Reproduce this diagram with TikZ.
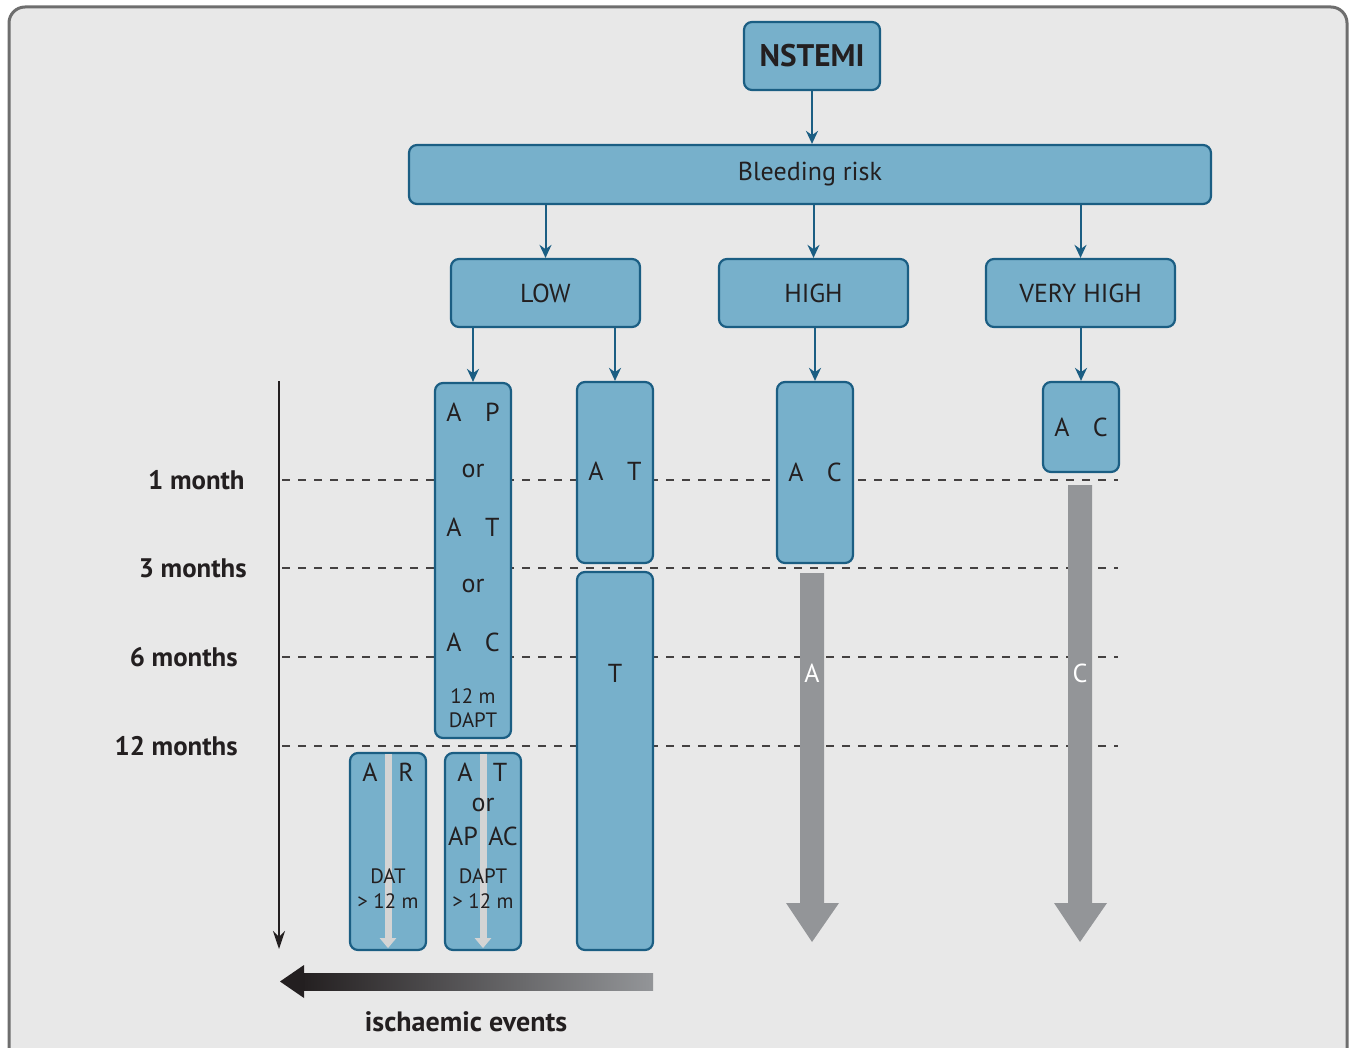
\documentclass[tikz,border=0pt]{standalone}
\usepackage{fontspec}
\setmainfont{PT Sans}
\usetikzlibrary{arrows.meta}
\definecolor{boxfill}{HTML}{77B0CB}
\definecolor{boxline}{HTML}{1B5E83}
\definecolor{bggray}{HTML}{E8E8E8}
\definecolor{framegray}{HTML}{6E6E6E}
\definecolor{bararrow}{HTML}{939598}
\definecolor{lightarrow}{HTML}{D4D4D4}
\definecolor{darktext}{HTML}{231F20}
\begin{document}
\begin{tikzpicture}[x=0.5pt,y=-0.5pt,line join=round,
    >={Stealth[length=6.5pt,width=6pt]},
    box/.style={draw=boxline,fill=boxfill,line width=1.1pt,rounded corners=4pt,inner sep=0pt,
      text=darktext,font=\fontsize{13}{15}\selectfont},
    flow/.style={->,draw=boxline,line width=1pt},
    txt/.style={text=darktext,font=\fontsize{13}{15}\selectfont,inner sep=0pt},
    small/.style={text=darktext,font=\fontsize{10.4}{12}\selectfont,inner sep=0pt},
    month/.style={text=darktext,font=\bfseries\fontsize{13.4}{15}\selectfont,anchor=east,inner sep=0pt},
    grid/.style={draw=darktext!85,line width=0.55pt,dash pattern=on 4pt off 4pt}]
  \useasboundingbox (0,0) rectangle (1354,1048);
  \clip (0,0) rectangle (1354,1048);
  % frame
  \draw[framegray,line width=1.5pt,fill=bggray,rounded corners=8pt] (9,7) rectangle (1347,1120);

  % time axis and month lines
  \foreach \y/\x/\lab in {480/245/1 month,568/247/3 months,657/238/6 months,746/238/12 months}{
    \draw[grid] (282,\y) -- (1118,\y);
    \node[month] (m\y) at (\x,\y) {\lab};
  }
  \draw[darktext,line width=1pt,-{Stealth[length=9pt,width=6pt]}] (279,381) -- (279,949);

  % decision tree
  \node[box,minimum width=68pt,minimum height=34pt,font=\bfseries\fontsize{15.6}{17}\selectfont] (nstemi) at (812,56) {NSTEMI};
  \node[box,minimum width=401pt,minimum height=29.5pt] (bleed) at (810,174.5) {Bleeding risk};
  \node[box,minimum width=94.5pt,minimum height=34pt] (low) at (545.5,293) {LOW};
  \node[box,minimum width=94.5pt,minimum height=34pt] (high) at (813.5,293) {HIGH};
  \node[box,minimum width=94.5pt,minimum height=34pt] (vhigh) at (1080.5,293) {VERY HIGH};

  \draw[flow] (nstemi.south) -- (nstemi.south |- bleed.north);
  \foreach \n in {low,high,vhigh}
    \draw[flow] (\n.north |- bleed.south) -- (\n.north);

  % low risk
  \node[box,minimum width=38pt,minimum height=177.5pt] (apbox) at (473,560.5) {};
  \node[box,minimum width=38pt,minimum height=90.5pt] (atbox) at (615,472.5) {};
  \node[box,minimum width=38pt,minimum height=189pt] (tbox) at (615,761) {};
  \draw[flow] (apbox.north |- low.south) -- (apbox.north);
  \draw[flow] (atbox.north |- low.south) -- (atbox.north);
  \node[txt] (ap1) at (473,412) {A\hspace{0.9em}P};
  \node[txt] (ap2) at (473,471) {or};
  \node[txt] (ap3) at (473,527) {A\hspace{0.9em}T};
  \node[txt] (ap4) at (473,586) {or};
  \node[txt] (ap5) at (473,642) {A\hspace{0.9em}C};
  \node[small] (ap6) at (473,696) {12 m};
  \node[small] (ap7) at (473,720) {DAPT};
  \node[txt] (at1) at (615,471) {A\hspace{0.9em}T};
  \node[txt] (t1) at (615,673) {T};

  % after 12 months
  \node[box,minimum width=38pt,minimum height=98.5pt] (arbox) at (388,851.5) {};
  \node[box,minimum width=38pt,minimum height=98.5pt] (dapbox) at (483,851.5) {};
  \foreach \n in {arbox,dapbox}
    \draw[lightarrow,line width=3.5pt,-{Triangle[length=5pt,width=8pt]},shorten <=1pt,shorten >=1.5pt] (\n.north) -- (\n.south);
  \node[txt] (ar1) at (370,772) {A};
  \node[txt] (ar2) at (406,772) {R};
  \node[small] (ar3) at (388,876) {DAT};
  \node[small] (ar4) at (388,901) {> 12 m};
  \node[txt] (da1) at (465,772) {A};
  \node[txt] (da2) at (500,772) {T};
  \node[txt] (da3) at (483,805) {or};
  \node[txt] (da4) at (463,836) {AP};
  \node[txt] (da5) at (503,836) {AC};
  \node[small] (da6) at (483,876) {DAPT};
  \node[small] (da7) at (483,901) {> 12 m};

  % high and very high risk
  \node[box,minimum width=38pt,minimum height=90.5pt] (hibox) at (815,472.5) {A\hspace{0.9em}C};
  \node[box,minimum width=38pt,minimum height=45pt] (vhbox) at (1081,427) {A\hspace{0.9em}C};
  \draw[flow] (hibox.north |- high.south) -- (hibox.north);
  \draw[flow] (vhbox.north |- vhigh.south) -- (vhbox.north);
  \fill[bararrow] (800,573) -- (824,573) -- (824,903) -- (839,903) -- (812,942) -- (786,903) -- (800,903) -- cycle;
  \fill[bararrow] (1068,485) -- (1092,485) -- (1092,903) -- (1107,903) -- (1080,942) -- (1054,903) -- (1068,903) -- cycle;
  \node[txt,text=white] (hiA) at (812,673) {A};
  \node[txt,text=white] (vhC) at (1080,673) {C};

  % ischaemic events
  \shade[left color=darktext,right color=bararrow] (300,973) rectangle (653,990);
  \fill[darktext] (280,981.5) -- (304,965) -- (304,998) -- cycle;
  \node[text=darktext,font=\bfseries\fontsize{14}{16}\selectfont] (isch) at (466,1022) {ischaemic events};
\end{tikzpicture}
\end{document}
